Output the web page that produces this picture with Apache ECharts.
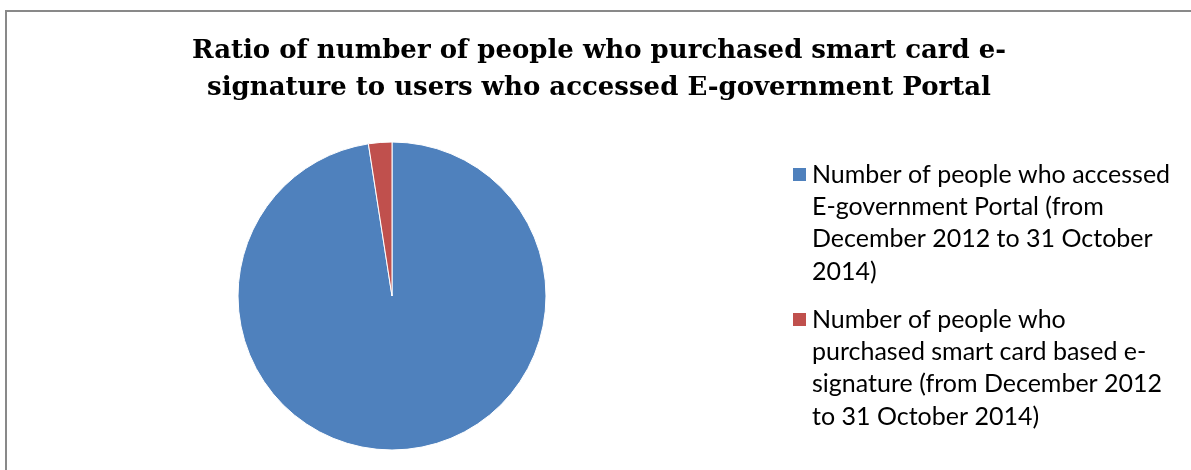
<!DOCTYPE html>
<html>
<head>
<meta charset="utf-8">
<script src="https://cdn.jsdelivr.net/npm/echarts@6/dist/echarts.min.js"></script>
<style>
  html, body { margin: 0; padding: 0; background: #fff; }
  #chart { width: 1191px; height: 470px; }
</style>
</head>
<body>
<div id="chart"></div>
<script>
  // data (share of the whole, in %)
  var categories = [
    'Number of people who accessed\nE-government Portal (from\nDecember 2012 to 31 October\n2014)',
    'Number of people who\npurchased smart card based e-\nsignature (from December 2012\nto 31 October 2014)'
  ]
  var values = [97.55, 2.45]
  var colors = ['#4F81BD', '#C0504D']

  var lineH = 32.4
  var legendFont = {
    fontFamily: 'Lato',
    fontSize: 25,
    color: '#000',
    lineHeight: lineH
  }

  // legend text is centred on the icon, so pad 3 empty lines on top:
  // the first real line then sits next to the icon
  function legendOf(name, iconTop) {
    return {
      data: [name],
      orient: 'vertical',
      left: 791,
      top: iconTop - (lineH * 3.5 - 7.5),
      padding: 0,
      icon: 'rect',
      itemWidth: 15,
      itemHeight: 15,
      itemGap: 0,
      selectedMode: false,
      formatter: function (n) { return '\n\n\n' + n },
      textStyle: legendFont
    }
  }

  var chart = echarts.init(document.getElementById('chart'))
  chart.setOption({
    animation: false,
    title: {
      text: 'Ratio of number of people who purchased smart card e-\nsignature to users who accessed E-government Portal',
      left: 594,
      textAlign: 'center',
      top: 28,
      textStyle: {
        fontFamily: 'DejaVu Serif',
        fontWeight: 'bold',
        fontSize: 26,
        lineHeight: 37,
        color: '#000'
      }
    },
    legend: [legendOf(categories[0], 167), legendOf(categories[1], 312)],
    graphic: [{
      type: 'rect',
      shape: { x: 6, y: 11, width: 1300, height: 600 },
      style: { fill: null, stroke: '#898989', lineWidth: 2 },
      silent: true,
      z: -1
    }],
    series: [{
      type: 'pie',
      center: [392, 296],
      radius: 154,
      startAngle: 90,
      clockwise: true,
      label: { show: false },
      labelLine: { show: false },
      emphasis: { disabled: true },
      itemStyle: { borderColor: '#fff', borderWidth: 1 },
      data: categories.map(function (name, i) {
        return { name: name, value: values[i], itemStyle: { color: colors[i] } }
      })
    }]
  })
</script>
</body>
</html>
